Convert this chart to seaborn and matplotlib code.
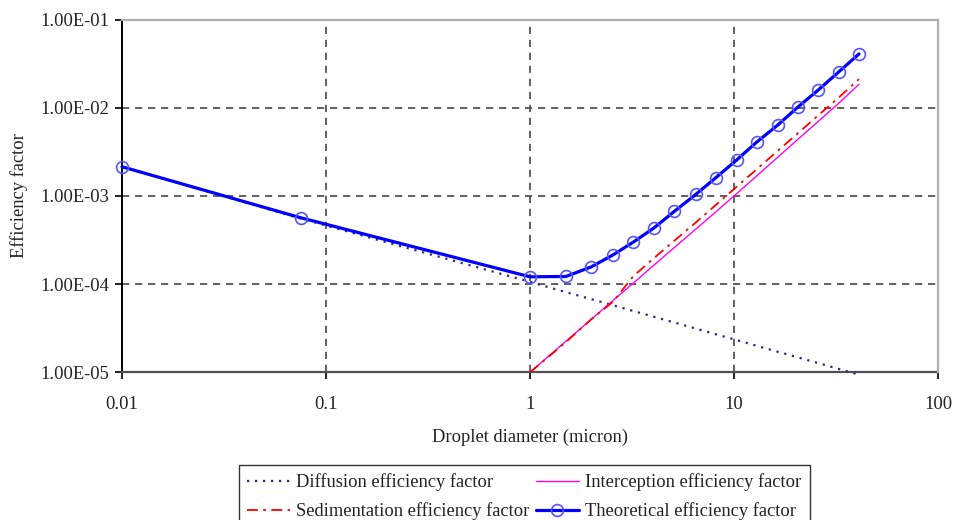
import matplotlib
matplotlib.use("Agg")
import matplotlib.pyplot as plt
import seaborn as sns
import pandas as pd
from matplotlib.ticker import FixedLocator, FuncFormatter, NullLocator

# ---- data ----
diameter = [0.01, 0.075, 1, 1.5, 2, 2.55, 3.2, 4.05, 5.1, 6.5, 8.15,
            10.3, 12.9, 16.4, 20.5, 25.9, 32.7, 41]
diffusion = [2.14e-3, 5.55e-4, 1.06e-4, 8.1e-5, 6.75e-5, 5.76e-5, 4.97e-5,
             4.26e-5, 3.67e-5, 3.13e-5, 2.70e-5, 2.32e-5, 2.0e-5, 1.71e-5,
             1.48e-5, 1.27e-5, 1.09e-5, 9.4e-6]
theoretical = [2.14e-3, 5.66e-4, 1.21e-4, 1.22e-4, 1.57e-4, 2.14e-4, 2.98e-4,
               4.33e-4, 6.68e-4, 1.04e-3, 1.61e-3, 2.55e-3, 4.06e-3, 6.37e-3,
               1.01e-2, 1.59e-2, 2.56e-2, 4.07e-2]
diameter_large = [1, 1.5, 2, 2.55, 3.2, 4.05, 5.1, 6.5, 8.15, 10.3, 12.9,
                  16.4, 20.5, 25.9, 32.7, 41]
interception = [1.0e-5, 2.25e-5, 4.0e-5, 6.5e-5, 1.02e-4, 1.64e-4, 2.6e-4,
                4.2e-4, 6.6e-4, 1.06e-3, 1.68e-3, 2.75e-3, 4.35e-3, 7.0e-3,
                1.13e-2, 1.84e-2]
sedimentation = [1.0e-5, 2.2e-5, 4.0e-5, 6.3e-5, 1.22e-4, 1.97e-4, 3.1e-4,
                 5.0e-4, 7.9e-4, 1.27e-3, 2.0e-3, 3.25e-3, 5.1e-3, 8.2e-3,
                 1.31e-2, 2.11e-2]
x_ticks = [0.01, 0.1, 1, 10, 100]
y_ticks = [1e-5, 1e-4, 1e-3, 1e-2, 1e-1]
x_label = "Droplet diameter (micron)"
y_label = "Efficiency factor"
names = ["Diffusion efficiency factor", "Sedimentation efficiency factor",
         "Interception efficiency factor", "Theoretical efficiency factor"]

sns.set_style("white")
plt.rcParams["font.family"] = ["Liberation Serif", "DejaVu Serif"]

fig = plt.figure(figsize=(9.55, 5.2), dpi=100)
W, H = 955, 520
ax = fig.add_axes([122 / W, 1 - 372.3 / H, (938 - 122) / W, (372.3 - 19.5) / H])

df_small = pd.DataFrame({"d": diameter, "diff": diffusion, "theo": theoretical})
df_large = pd.DataFrame({"d": diameter_large, "int": interception, "sed": sedimentation})

sns.lineplot(data=df_small, x="d", y="diff", ax=ax, color="#2a2a8a",
             linewidth=1.6, linestyle=(0, (1, 2.6)), estimator=None,
             sort=False, label=names[0], zorder=3, clip_on=False)
sns.lineplot(data=df_large, x="d", y="sed", ax=ax, color="#ff0000",
             linewidth=1.3, linestyle=(0, (6, 3, 1.5, 3)), estimator=None,
             sort=False, label=names[1], zorder=4)
sns.lineplot(data=df_large, x="d", y="int", ax=ax, color="#ff00ff",
             linewidth=1.0, estimator=None, sort=False, label=names[2], zorder=3)
sns.lineplot(data=df_small, x="d", y="theo", ax=ax, color="#0000ff",
             linewidth=2.3, marker="o", markersize=8.5, markerfacecolor="none",
             markeredgecolor="#5555ff", markeredgewidth=1.2, estimator=None,
             sort=False, label=names[3], zorder=5, clip_on=False)

ax.set_xscale("log")
ax.set_yscale("log")
ax.set_xlim(0.01, 100)
ax.set_ylim(1e-5, 1e-1)
ax.xaxis.set_major_locator(FixedLocator(x_ticks))
ax.yaxis.set_major_locator(FixedLocator(y_ticks))
ax.xaxis.set_minor_locator(NullLocator())
ax.yaxis.set_minor_locator(NullLocator())
ax.xaxis.set_major_formatter(FuncFormatter(lambda v, p: f"{v:g}"))
ax.yaxis.set_major_formatter(FuncFormatter(lambda v, p: f"{v:.2E}"))

ax.grid(True, which="major", color="#555555", linewidth=1.3,
        linestyle=(0, (4, 3.2)))
ax.set_axisbelow(True)

for side in ["top", "right"]:
    ax.spines[side].set_color("#b0b0b0")
    ax.spines[side].set_linewidth(1.6)
    ax.spines[side].set_zorder(2.6)
ax.spines["left"].set_color("#000000")
ax.spines["left"].set_linewidth(1.4)
ax.spines["bottom"].set_color("#505050")
ax.spines["bottom"].set_linewidth(1.6)

ax.tick_params(axis="both", which="major", direction="out", length=5,
               width=1.2, colors="#000000", labelsize=13.3, labelcolor="#222222",
               bottom=True, left=True, top=False, right=False)
ax.tick_params(axis="x", pad=12)
ax.tick_params(axis="y", pad=4)

ax.set_xlabel(x_label, fontsize=13.3, color="#222222")
ax.set_ylabel(y_label, fontsize=13.3, color="#222222")
ax.xaxis.set_label_coords((530 - 122) / 816, (372.3 - 429) / 352.8)
ax.yaxis.set_label_coords((28 - 122) / 816, 0.5)

handles, labels = ax.get_legend_handles_labels()
ax.get_legend().remove()
leg = fig.legend(handles, labels, loc="upper left",
                 bbox_to_anchor=(239 / W, 1 - 465 / H), ncol=2,
                 fontsize=13.3, frameon=True, fancybox=False, shadow=False,
                 handlelength=2.3, handletextpad=0.35, columnspacing=0.35,
                 labelspacing=0.6, borderpad=0.45, borderaxespad=0)
leg.get_frame().set_edgecolor("#000000")
leg.get_frame().set_linewidth(1.0)
for t in leg.get_texts():
    t.set_color("#222222")

fig.savefig("out.png", dpi=100)
